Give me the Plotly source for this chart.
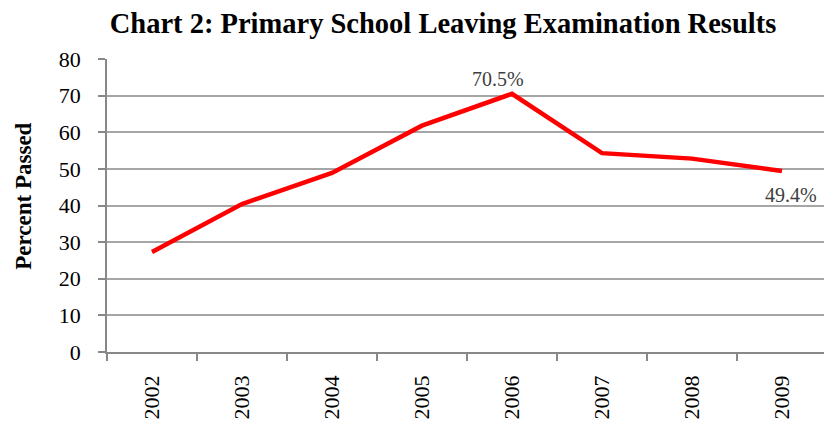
import plotly.graph_objects as go

years = ["2002", "2003", "2004", "2005", "2006", "2007", "2008", "2009"]
passed = [27.3, 40.4, 48.9, 61.8, 70.5, 54.3, 52.8, 49.4]
label_idx = [4, 7]
label_text = ["70.5%", "49.4%"]

SERIF = "Liberation Serif"

fig = go.Figure()
fig.add_trace(go.Scatter(
    x=years, y=passed, mode="lines",
    line=dict(color="#ff0000", width=4.5),
    hoverinfo="skip", showlegend=False,
))

fig.add_annotation(x=label_idx[0], y=passed[label_idx[0]], text=label_text[0],
                   xref="x", yref="y",
                   showarrow=False, yanchor="bottom", xshift=-14, yshift=2,
                   font=dict(family=SERIF, size=20, color="#404040"))
fig.add_annotation(x=label_idx[1], y=passed[label_idx[1]], text=label_text[1],
                   xref="x", yref="y",
                   showarrow=False, yanchor="top", xshift=9, yshift=-11,
                   font=dict(family=SERIF, size=20, color="#404040"))

# y-axis title as rotated annotation
fig.add_annotation(x=(24 - 107) / 717, y=0.53, xref="paper", yref="paper",
                   text="<b>Percent Passed</b>", textangle=-90, showarrow=False,
                   xanchor="center", yanchor="middle",
                   font=dict(family=SERIF, size=23, color="black"))

fig.update_layout(
    width=824, height=425,
    font=dict(family=SERIF, size=22, color="black"),
    margin=dict(l=107, r=0, t=59, b=73),
    paper_bgcolor="white", plot_bgcolor="white",
    title=dict(text="<b>Chart 2: Primary School Leaving Examination Results</b>",
               x=443 / 824, xanchor="center", xref="container",
               y=1 - 23 / 425, yanchor="middle", yref="container",
               font=dict(family=SERIF, size=28.5, color="black")),
    xaxis=dict(type="category", range=[-0.5, 7.467], automargin=False,
               tickangle=-90, ticks="outside", ticklen=7,
               tickson="boundaries", ticklabelstandoff=13,
               tickcolor="#888888", tickwidth=1.5,
               showline=True, linecolor="#888888", linewidth=1.5,
               showgrid=False,
               tickfont=dict(family=SERIF, size=22, color="black")),
    yaxis=dict(range=[0, 80], dtick=10, ticks="outside", ticklen=7,
               automargin=False, ticklabelstandoff=13,
               tickcolor="#888888", tickwidth=1.5,
               showline=True, linecolor="#888888", linewidth=1.5,
               showgrid=True, gridcolor="#a6a6a6", gridwidth=1.5,
               zeroline=False,
               tickfont=dict(family=SERIF, size=22, color="black")),
)

fig.write_html("out.html")
